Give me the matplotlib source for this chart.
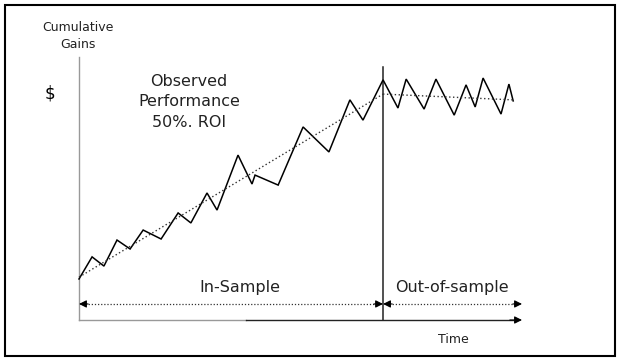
import matplotlib
matplotlib.use("Agg")
import matplotlib.pyplot as plt
from matplotlib.patches import Rectangle

# ---- data (time units, cumulative gains units) ----
time = [0, 4.3, 8.2, 12.5, 16.8, 21.1, 27.0, 32.6, 36.8, 42.1, 45.4, 52.3, 56.9, 57.9,
        65.5, 73.7, 82.2, 89.1, 93.4, 100.0, 104.9, 107.6, 113.5, 117.4, 123.4, 127.3,
        130.3, 132.9, 138.8, 141.4, 142.8]
gains = [15.6, 24.0, 20.5, 30.4, 27.0, 34.2, 30.8, 40.7, 36.9, 48.3, 41.8, 62.7, 51.7, 55.1,
         51.3, 73.4, 63.9, 83.7, 76.0, 91.3, 80.6, 91.6, 80.2, 91.6, 77.9, 89.4,
         81.0, 92.0, 78.3, 89.7, 83.3]
trend_in_t = [0, 100.0]
trend_in_g = [16.3, 85.9]
trend_out_t = [100.0, 142.8]
trend_out_g = [85.9, 83.7]
split_t = 100.0
t_end = 145.7
g_top = 100.0
labels = {"y": "Cumulative\nGains", "unit": "$", "perf": "Observed\nPerformance\n50%. ROI",
          "in": "In-Sample", "out": "Out-of-sample", "x": "Time"}

W, H = 622, 362
fig = plt.figure(figsize=(W / 100, H / 100), dpi=100)
fig.patch.set_facecolor("white")
# frame around the figure
fig.patches.append(Rectangle((5 / W, 6 / H), 610 / W, 351 / H, transform=fig.transFigure,
                             fill=False, edgecolor="black", linewidth=1.5))

ax = fig.add_axes([79 / W, 42 / H, (522 - 79) / W, (320 - 57) / H])
ax.set_xlim(0, t_end)
ax.set_ylim(0, g_top)
ax.axis("off")

# axes lines
ax.plot([0, 0], [0, g_top], color="#999999", lw=1.0, clip_on=False)
ax.plot([0, 55], [0, 0], color="#999999", lw=1.0, clip_on=False)
ax.plot([55, t_end - 3], [0, 0], color="#222222", lw=1.0, clip_on=False)
ax.annotate("", xy=(t_end, 0), xytext=(t_end - 4, 0),
            arrowprops=dict(arrowstyle="-|>", mutation_scale=11, color="black", lw=0.8,
                            shrinkA=0, shrinkB=0))
# divider
ax.plot([split_t, split_t], [0, 96.2], color="#222222", lw=1.1, clip_on=False)

# series and trends
ax.plot(time, gains, color="black", lw=1.1, solid_joinstyle="miter", clip_on=False)
ax.plot(trend_in_t, trend_in_g, color="#333333", lw=1.0, ls=(0, (1, 1.8)), clip_on=False)
ax.plot(trend_out_t, trend_out_g, color="#333333", lw=1.0, ls=(0, (1, 1.8)), clip_on=False)

# period arrows
ya = 6.1
ax.plot([2, split_t - 2], [ya, ya], color="#333333", lw=0.9, ls=(0, (1, 1.5)))
ax.plot([split_t + 2, t_end - 2], [ya, ya], color="#333333", lw=0.9, ls=(0, (1, 1.5)), clip_on=False)
for tip, frm in [(0, 3), (split_t, split_t - 3), (split_t, split_t + 3), (t_end, t_end - 3)]:
    ax.annotate("", xy=(tip, ya), xytext=(frm, ya),
                arrowprops=dict(arrowstyle="-|>", mutation_scale=11, color="black", lw=0.8,
                                shrinkA=0, shrinkB=0))

fam = "DejaVu Sans"
ax.text(-0.3, 108.0, labels["y"], ha="center", va="center", fontsize=9, family=fam,
        linespacing=1.45, color="#222222")
ax.text(-9.5, 86.3, labels["unit"], ha="center", va="center", fontsize=12, family=fam)
ax.text(36.2, 82.9, labels["perf"], ha="center", va="center", fontsize=11.5, family=fam,
        linespacing=1.45, color="#222222")
ax.text(53.0, 12.5, labels["in"], ha="center", va="center", fontsize=11.5, family=fam,
        color="#222222")
ax.text(122.7, 12.5, labels["out"], ha="center", va="center", fontsize=11.5, family=fam,
        color="#222222")
ax.text(123.0, -7.6, labels["x"], ha="center", va="center", fontsize=9, family=fam,
        color="#222222")

fig.savefig("out.png", dpi=100)
